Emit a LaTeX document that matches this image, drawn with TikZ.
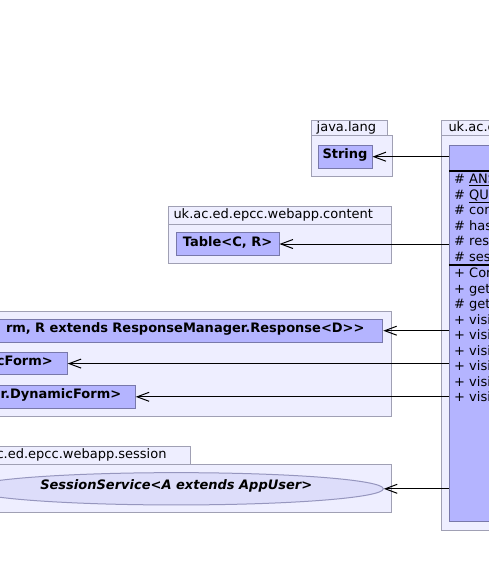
\documentclass[tikz,border=0pt]{standalone}
\usepackage{fontspec}
\setmainfont{DejaVu Sans}[Ligatures=TeXOff]
\usetikzlibrary{arrows.meta,shapes.geometric}
\definecolor{pkgfill}{RGB}{238,238,255}
\definecolor{pkgline}{RGB}{160,160,180}
\definecolor{clsfill}{RGB}{180,180,255}
\definecolor{clsline}{RGB}{120,120,170}
\definecolor{ifill}{RGB}{221,221,250}
\definecolor{iline}{RGB}{150,150,190}
\begin{document}
\begin{tikzpicture}[x=1pt,y=-1pt,
  pkg/.style={draw=pkgline,fill=pkgfill,line width=1pt},
  tablabel/.style={anchor=base west,inner sep=0pt,font=\fontsize{13}{15}\selectfont},
  clsbox/.style={draw=clsline,fill=clsfill,line width=1pt,inner sep=0pt,
    text height=9.5pt,text depth=5.5pt,font=\fontsize{13}{15}\selectfont\bfseries},
  iface/.style={ellipse,draw=iline,fill=ifill,line width=1pt,inner sep=0pt,
    text height=9.5pt,text depth=8.5pt,font=\fontsize{13}{15}\selectfont\bfseries\itshape},
  member/.style={anchor=base west,inner sep=0pt,font=\fontsize{13}{15}\selectfont},
  sepline/.style={draw=black,line width=1.2pt},
  conn/.style={draw=black,line width=1pt,-{Straight Barb[length=12pt,width=9pt]}}
]
\useasboundingbox (0,0) rectangle (489,568);
\clip (0,0) rectangle (489,568);
\fill[white] (0,0) rectangle (489,568);

% java.lang package
\draw[pkg] (311,120) rectangle (387,135);
\draw[pkg] (311,135) rectangle (392,176);
\node[tablabel] (tjava) at (316.5,131.5) {java.lang};
\node[clsbox,minimum width=54pt,minimum height=23.3pt] (str) at (345,156.7) {String};

% content package
\draw[pkg] (168.3,206.7) rectangle (391,224);
\draw[pkg] (168.3,224) rectangle (391,263.3);
\node[tablabel] (tcontent) at (173.3,218.5) {uk.ac.ed.epcc.webapp.content};
\node[clsbox,minimum width=103pt,minimum height=23.4pt] (tab) at (227.5,244) {Table<C, R>};

% forms package
\draw[pkg] (-10,311.7) rectangle (391.7,416);
\node[clsbox,anchor=east,minimum height=22.7pt,text width=420pt,align=right,inner xsep=18.3pt]
  (fr) at (383.3,330.7) {rm, R extends ResponseManager.Response<D>>};
\node[clsbox,anchor=east,minimum height=22.7pt,text width=100pt,align=right,inner xsep=14.4pt]
  (df) at (67.7,363.6) {cForm>};
\node[clsbox,anchor=east,minimum height=23pt,text width=160pt,align=right,inner xsep=14pt]
  (rdf) at (135.7,396.8) {r.DynamicForm>};

% session package
\draw[pkg] (-10,446.7) rectangle (190.7,464.3);
\draw[pkg] (-10,464.3) rectangle (391.7,512.7);
\node[tablabel,anchor=base east] (tsession) at (166.7,458) {ac.ed.epcc.webapp.session};
\node[iface,minimum width=414pt,minimum height=32.3pt] (sess) at (176.3,488.8) {SessionService<A extends AppUser>};

% right package with class
\draw[pkg] (441.7,120) rectangle (520,135.5);
\draw[pkg] (441.7,135.5) rectangle (520,530);
\node[tablabel] (tright) at (448.3,131.5) {uk.ac.ed};
\node[clsbox,minimum width=70.7pt,minimum height=376.7pt] (cls) at (484.65,333.35) {};
\draw[sepline] (cls.west |- 0,171) -- (cls.east |- 0,171);
\draw[sepline] (cls.west |- 0,265) -- (cls.east |- 0,265);

\foreach \t [count=\i from 0] in {\#\ \underline{ANS},\#\ \underline{QUE},\#\ com,\#\ has,\#\ res,\#\ ses}
  \node[member] (a\i) at (454,{178.75+15.5*\i+4.75}) {\t};
\foreach \t [count=\i from 0] in {+ Con,+ get,\#\ get,+ visit,+ visit,+ visit,+ visit,+ visit,+ visit}
  \node[member] (m\i) at (454,{272.75+15.5*\i+4.75}) {\t};

% connectors
\draw[conn] (cls.west |- str.east) -- (str.east);
\draw[conn] (cls.west |- tab.east) -- (tab.east);
\draw[conn] (cls.west |- fr.east) -- (fr.east);
\draw[conn] (cls.west |- df.east) -- (df.east);
\draw[conn] (cls.west |- rdf.east) -- (rdf.east);
\draw[conn] (cls.west |- sess.east) -- (sess.east);
\end{tikzpicture}
\end{document}
